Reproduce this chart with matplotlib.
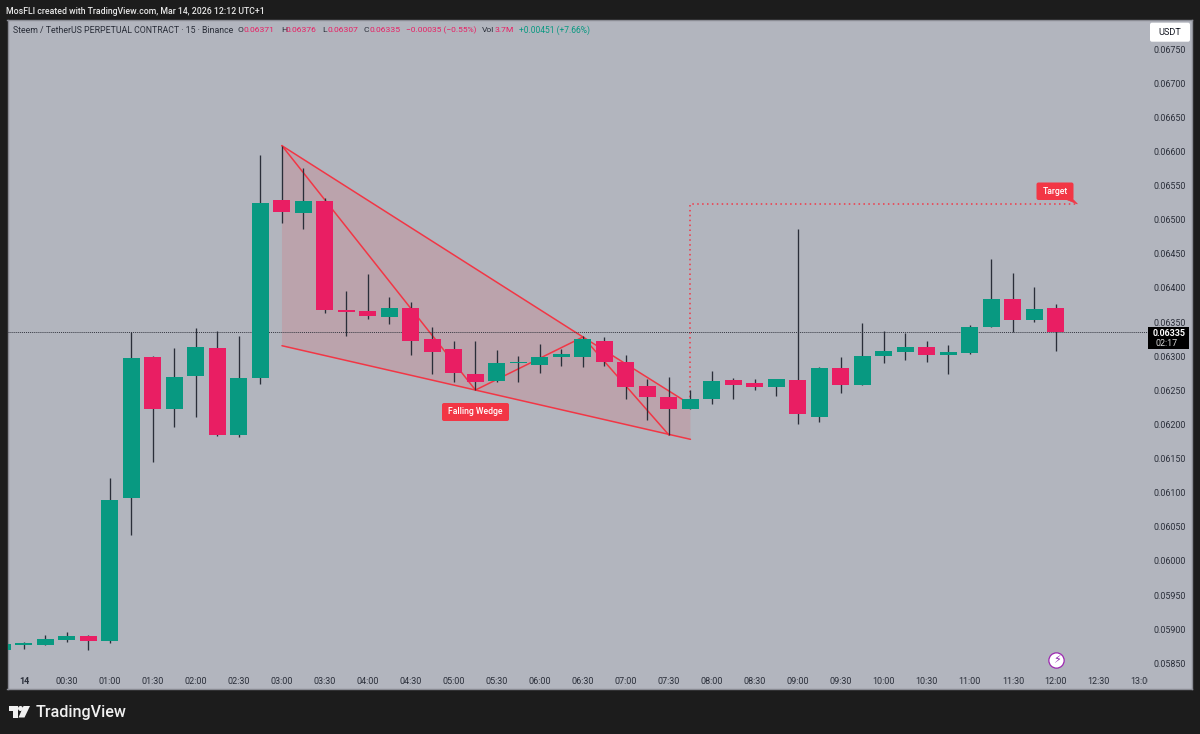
import matplotlib
matplotlib.use("Agg")
import matplotlib.pyplot as plt
from matplotlib.patches import FancyBboxPatch, Polygon, Rectangle, Circle
from matplotlib.transforms import Bbox, TransformedBbox

plt.rcParams['font.family'] = ['Roboto', 'DejaVu Sans']

# ---- chart data: 15-minute candles, bar index 0 = 00:00 ----
bars = list(range(-1, 49))
opens = [.058695, .058769, .058769, .058842, .058905, .058823, .060922, .062992, .062230, .062714,
         .063120, .061849, .062676, .065283, .065102, .065273, .063681, .063662, .063574, .063706,
         .063251, .063101, .062743, .062641, .062893, .062875, .062983, .062992, .063218, .062919,
         .062563, .062406, .062222, .062368, .062651, .062603, .062548, .062646, .062109, .062831,
         .062573, .063002, .063057, .063134, .063021, .063046, .063432, .063842, .063530, .06371]
closes = [.058783, .058791, .058852, .058905, .058823, .060893, .062973, .062230, .062690, .063139,
          .061849, .062680, .065240, .065116, .065273, .063676, .063647, .063584, .063701, .063222,
          .063061, .062749, .062626, .062904, .062915, .062992, .063027, .063251, .062919, .062553,
          .062406, .062222, .062368, .062636, .062582, .062548, .062661, .062153, .062822, .062582,
          .063002, .063071, .063134, .063021, .063061, .063423, .063833, .063530, .063691, .06335]
highs = [.058783, .058817, .058915, .058959, .058919, .061215, .063354, .063002, .063115, .063413,
         .063369, .063295, .065947, .066083, .065752, .065313, .063950, .064199, .063862, .063798,
         .063423, .063218, .063227, .063090, .063002, .063178, .063101, .063295, .063276, .063021,
         .062670, .062690, .062504, .062778, .062676, .062665, .062661, .064859, .062846, .062983,
         .063490, .063364, .063344, .063227, .063159, .063452, .064423, .064214, .064018, .06376]
lows = [.058695, .058706, .058769, .058813, .058695, .058802, .060384, .061454, .061962, .062109,
        .061826, .061820, .062588, .064955, .064863, .063628, .063300, .063549, .063476, .063021,
        .062743, .062626, .062504, .062622, .062626, .062758, .062856, .062846, .062856, .062368,
        .062065, .061845, .062222, .062299, .062368, .062504, .062416, .062006, .062036, .062456,
        .062573, .062895, .062944, .062915, .062739, .063032, .063432, .063354, .063505, .06307]

last_price = 0.06335
price_ticks = [.0585, .059, .0595, .06, .0605, .061, .0615, .062, .0625, .063,
               .0635, .064, .0645, .065, .0655, .066, .0665, .067, .0675]
time_ticks = list(range(0, 54, 2))
time_labels = ['14', '00:30', '01:00', '01:30', '02:00', '02:30', '03:00', '03:30', '04:00',
               '04:30', '05:00', '05:30', '06:00', '06:30', '07:00', '07:30', '08:00', '08:30',
               '09:00', '09:30', '10:00', '10:30', '11:00', '11:30', '12:00', '12:30', '13:00']

# drawing anchors (bar index, price)
wedge_fill_x = [12, 26, 31, 31, 12]
wedge_fill_y = [.066083, .063281, .062292, .061782, .063153]
zigzag_x = [12, 21, 26, 30]
zigzag_y = [.066083, .062504, .063281, .061845]
upper_x = [12, 26, 31]
upper_y = [.066083, .063281, .062292]
lower_x = [12, 31]
lower_y = [.063153, .061782]
target_x = [31, 31, 49]
target_y = [.06225, .06523, .06523]
target_tail_x = [48.72, 49, 48.3]
target_tail_y = [.06532, .06523, .06532]

BG = '#1c1c1c'
PANE = '#b2b5be'
GREEN = '#089981'
RED = '#e91e63'
WICK = '#2a2e39'
DRAW = '#f23645'
TXT = '#2a2e39'

fig = plt.figure(figsize=(12, 7.34), dpi=100, facecolor=BG)
W, H = 1200.0, 734.0
L, R, T, B = 7.5, 1192.0, 20.0, 689.0
ax = fig.add_axes([L / W, 1 - B / H, (R - L) / W, (B - T) / H], facecolor=PANE)
ax.set_xlim(-0.767, 54.33)
ax.set_ylim(0.058124, 0.067925)
for s in ax.spines.values():
    s.set_color('#8a8c94')
    s.set_linewidth(1.0)


def px(x, y):
    return x / W, 1 - y / H


# wedge drawing
ax.fill(wedge_fill_x, wedge_fill_y, facecolor=DRAW, alpha=0.14, edgecolor='none', zorder=1)
ax.plot(upper_x, upper_y, color=DRAW, lw=1.1, zorder=2, solid_capstyle='round')
ax.plot(lower_x, lower_y, color=DRAW, lw=1.1, zorder=2, solid_capstyle='round')
ax.plot(zigzag_x, zigzag_y, color=DRAW, lw=1.1, zorder=2, solid_joinstyle='round')
ax.plot(target_x, target_y, color=DRAW, lw=1.1, ls=(0, (1, 2.2)), zorder=2)

# last price line
ax.axhline(last_price, xmax=(1148 - L) / (R - L), color='#333640', lw=0.7, ls=(0, (1, 1)), zorder=3)

# candles
for b, o, c, h, l in zip(bars, opens, closes, highs, lows):
    col = GREEN if c >= o else RED
    ax.vlines(b, l, h, color=WICK, lw=0.95, zorder=4)
    ax.bar(b, abs(c - o), bottom=min(o, c), width=0.79, color=col, linewidth=0, zorder=5)

# axis ticks inside the pane
ax.yaxis.tick_right()
ax.set_yticks(price_ticks)
ax.set_yticklabels([f'{p:.5f}' for p in price_ticks])
ax.tick_params(axis='y', length=0, pad=-27.6, labelsize=6.4, labelcolor=TXT)
ax.set_xticks(time_ticks)
ax.set_xticklabels(time_labels)
ax.tick_params(axis='x', length=0, pad=-9.0, labelsize=6.5, labelcolor=TXT)
xt = ax.get_xticklabels()
xt[0].set_fontweight('bold')
xt[-1].set_clip_on(True)
xt[-1].set_clip_box(TransformedBbox(Bbox([[0, 0], [(1148 - L) / (R - L), 1]]), ax.transAxes))


# text labels on the chart
def badge(x0, y0, x1, y1, text):
    fig.add_artist(FancyBboxPatch((x0, H - y1), x1 - x0, y1 - y0,
                                  boxstyle='round,pad=0,rounding_size=2',
                                  transform=None, facecolor=DRAW, edgecolor='none', zorder=6))
    fig.text(*px((x0 + x1) / 2, (y0 + y1) / 2), text, color='white', fontsize=6.2, fontweight='medium',
             ha='center', va='center', zorder=7)


badge(442, 403, 509, 421, 'Falling Wedge')
badge(1036.5, 182.5, 1073.5, 200, 'Target')
ax.fill(target_tail_x, target_tail_y, facecolor=DRAW, edgecolor=DRAW, lw=0.5, zorder=6)

# USDT button and price tag
fig.add_artist(FancyBboxPatch((1150, H - 41.7), 40, 19, boxstyle='round,pad=0,rounding_size=2',
                              transform=None, facecolor='white', edgecolor='none', zorder=6))
fig.text(*px(1170, 32.3), 'USDT', color='#131722', fontsize=6.6, ha='center', va='center', zorder=7)
fig.add_artist(Rectangle((1148, H - 349), 41, 22, transform=None, facecolor='#000000', edgecolor='none', zorder=6))
fig.text(*px(1169, 333), '0.06335', color='white', fontsize=6.4, fontweight='bold', ha='center', va='center', zorder=7)
fig.text(*px(1167, 343), '02:17', color='#d8d8d8', fontsize=6.4, ha='center', va='center', zorder=7)

# lightning icon
ax.plot([48], [.05855], marker='o', ms=11, mfc='white', mec='#9c27b0', mew=0.9, zorder=6)
fig.text(*px(1056.8, 660.5), '\u26a1', color='#8e24aa', fontsize=8, ha='center', va='center',
         family='DejaVu Sans', zorder=7)

# header
fig.text(*px(6, 11), 'MosFLI created with TradingView.com, Mar 14, 2026 12:12 UTC+1', color='#e6e6e6',
         fontsize=6.3, fontweight='medium', ha='left', va='center')

legend_y = 30.5
legend_items = [
    (13, 'Steem / TetherUS PERPETUAL CONTRACT · 15 · Binance', TXT, 6.3),
    (238, 'O', TXT, 6.1), (244, '0.06371', RED, 6.1),
    (281, 'H', TXT, 6.1), (286, '0.06376', RED, 6.1),
    (322, 'L', TXT, 6.1), (328, '0.06307', RED, 6.1),
    (364, 'C', TXT, 6.1), (369, '0.06335', RED, 6.1),
    (406, '\u22120.00035 (\u22120.55%)', RED, 6.0),
    (482, 'Vol', TXT, 6.1), (495, '3.7M', RED, 6.1),
    (519, '+0.00451 (+7.66%)', GREEN, 6.15),
]
for x, s, c, fs in legend_items:
    fig.text(*px(x, legend_y), s, color=c, fontsize=fs, ha='left', va='center')

# footer logo
logo_rect = Polygon([px(8.5, 706), px(17.5, 706), px(17.5, 717.5), px(13, 717.5), px(13, 711), px(8.5, 711)],
                    closed=True, transform=fig.transFigure, facecolor='#f0f0f0', edgecolor='none')
logo_slash = Polygon([px(23.5, 706), px(30, 706), px(24.5, 717.5), px(18.5, 717.5)],
                     closed=True, transform=fig.transFigure, facecolor='#f0f0f0', edgecolor='none')
fig.add_artist(logo_rect)
fig.add_artist(logo_slash)
fig.add_artist(Circle((20.5, H - 708.5), 2.5, transform=None, facecolor='#f0f0f0', edgecolor='none'))
fig.text(*px(36, 712), 'TradingView', color='#f0f0f0', fontsize=11.6, fontweight='medium', ha='left', va='center')

fig.savefig('out.png', dpi=100, facecolor=BG)
